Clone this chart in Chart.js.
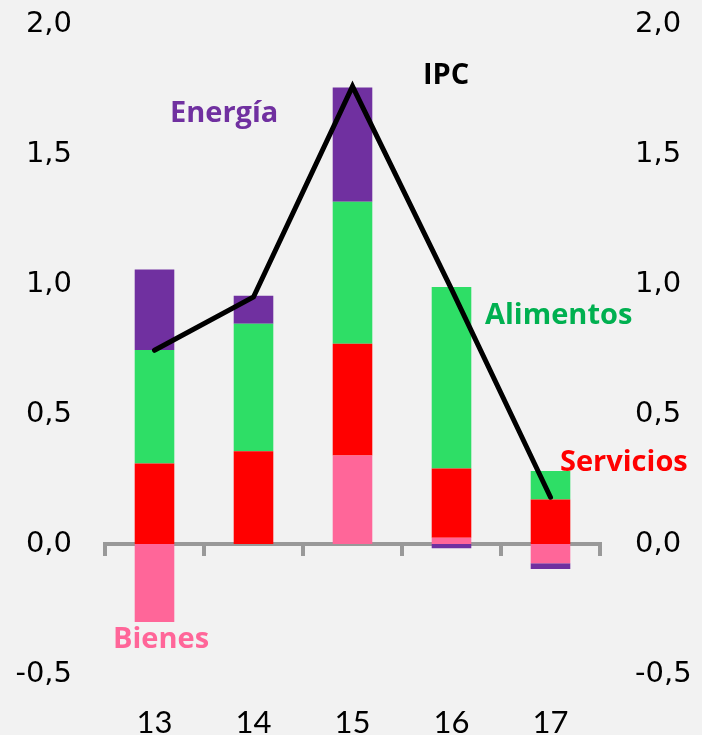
<!DOCTYPE html>
<html>
<head>
<meta charset="utf-8">
<script src="https://cdn.jsdelivr.net/npm/chart.js@4.4.0/dist/chart.umd.min.js"></script>
<style>
  html, body { margin: 0; padding: 0; background: #f2f2f2; }
  #wrap { width: 702px; height: 735px; }
</style>
</head>
<body>
<div id="wrap"><canvas id="chart" width="702" height="735"></canvas></div>
<script>
// data
const years = ['13', '14', '15', '16', '17'];
const bienes = [-0.30, 0, 0.34, 0.024, -0.074];
const servicios = [0.31, 0.357, 0.43, 0.266, 0.171];
const alimentos = [0.436, 0.49, 0.546, 0.698, 0.11];
const energia = [0.31, 0.108, 0.44, -0.016, -0.022];
const ipc = [0.745, 0.95, 1.76, 0.98, 0.18];
const yTicks = [-0.5, 0, 0.5, 1, 1.5, 2];

// free-floating series labels
const seriesLabels = [
    { text: 'Energía', color: '#7030a0', x: 170, y: 114 },
    { text: 'IPC', color: '#000000', x: 423, y: 76 },
    { text: 'Alimentos', color: '#00b050', x: 485, y: 316 },
    { text: 'Servicios', color: '#ff0000', x: 560, y: 463 },
    { text: 'Bienes', color: '#ff6699', x: 113, y: 640 }
];

const labelPlugin = {
    id: 'seriesLabels',
    afterDraw(chart) {
        const ctx = chart.ctx;
        ctx.save();
        ctx.font = 'bold 29px "Open Sans"';
        ctx.textAlign = 'left';
        ctx.textBaseline = 'middle';
        seriesLabels.forEach(function(l) {
            ctx.fillStyle = l.color;
            ctx.fillText(l.text, l.x, l.y);
        });
        ctx.restore();
    }
};

function fmt(v) {
    return v.toFixed(1).replace('.', ',');
}

const tickFont = { family: 'DejaVu Sans', size: 29 };

// keep the plot area fixed, ignore label overhang
function noPad(s) {
    s.paddingTop = 0;
    s.paddingBottom = 0;
}

const ctx = document.getElementById('chart').getContext('2d');
const chart = new Chart(ctx, {
    data: {
        labels: years,
        datasets: [
            { type: 'line', label: 'IPC', data: ipc, borderColor: '#000', borderWidth: 5,
              pointRadius: 0, tension: 0, fill: false, stack: 'ipc', order: 0,
              borderCapStyle: 'round', borderJoinStyle: 'miter' },
            { type: 'bar', label: 'Bienes', data: bienes, backgroundColor: '#ff6699', stack: 'a', order: 1 },
            { type: 'bar', label: 'Servicios', data: servicios, backgroundColor: '#ff0000', stack: 'a', order: 1 },
            { type: 'bar', label: 'Alimentos', data: alimentos, backgroundColor: '#2ede66', stack: 'a', order: 1 },
            { type: 'bar', label: 'Energía', data: energia, backgroundColor: '#7030a0', stack: 'a', order: 1 }
        ]
    },
    options: {
        responsive: false,
        animation: false,
        barPercentage: 0.4,
        categoryPercentage: 1,
        layout: { padding: { top: 24, left: 0, right: 0, bottom: 0 } },
        plugins: { legend: { display: false }, tooltip: { enabled: false } },
        scales: {
            x: {
                type: 'category',
                position: 'bottom',
                stacked: true,
                offset: true,
                grid: { display: false, drawTicks: false },
                border: { display: false },
                ticks: { color: '#000', font: { family: 'Lato', size: 31 }, padding: 30, maxRotation: 0 },
                afterFit: function(s) { s.height = 61; s.paddingLeft = 0; s.paddingRight = 0; }
            },
            x2: {
                type: 'category',
                position: { y: 0 },
                offset: true,
                z: 1,
                grid: { display: true, offset: true, drawOnChartArea: false, drawTicks: true,
                        tickLength: 10, color: '#999999', lineWidth: 4 },
                border: { display: true, color: '#999999', width: 4 },
                ticks: { display: false }
            },
            y: {
                position: 'left',
                stacked: true,
                min: -0.5,
                max: 2,
                grid: { display: false, drawTicks: false },
                border: { display: false },
                afterBuildTicks: function(s) { s.ticks = yTicks.map(v => ({ value: v })); },
                ticks: { color: '#000', font: tickFont, padding: 33, callback: fmt },
                afterFit: function(s) { s.width = 105; noPad(s); }
            },
            y2: {
                position: 'right',
                min: -0.5,
                max: 2,
                grid: { display: false, drawTicks: false },
                border: { display: false },
                afterBuildTicks: function(s) { s.ticks = yTicks.map(v => ({ value: v })); },
                ticks: { color: '#000', font: tickFont, padding: 35, callback: fmt },
                afterFit: function(s) { s.width = 102; noPad(s); }
            }
        }
    },
    plugins: [labelPlugin]
});
</script>
</body>
</html>
